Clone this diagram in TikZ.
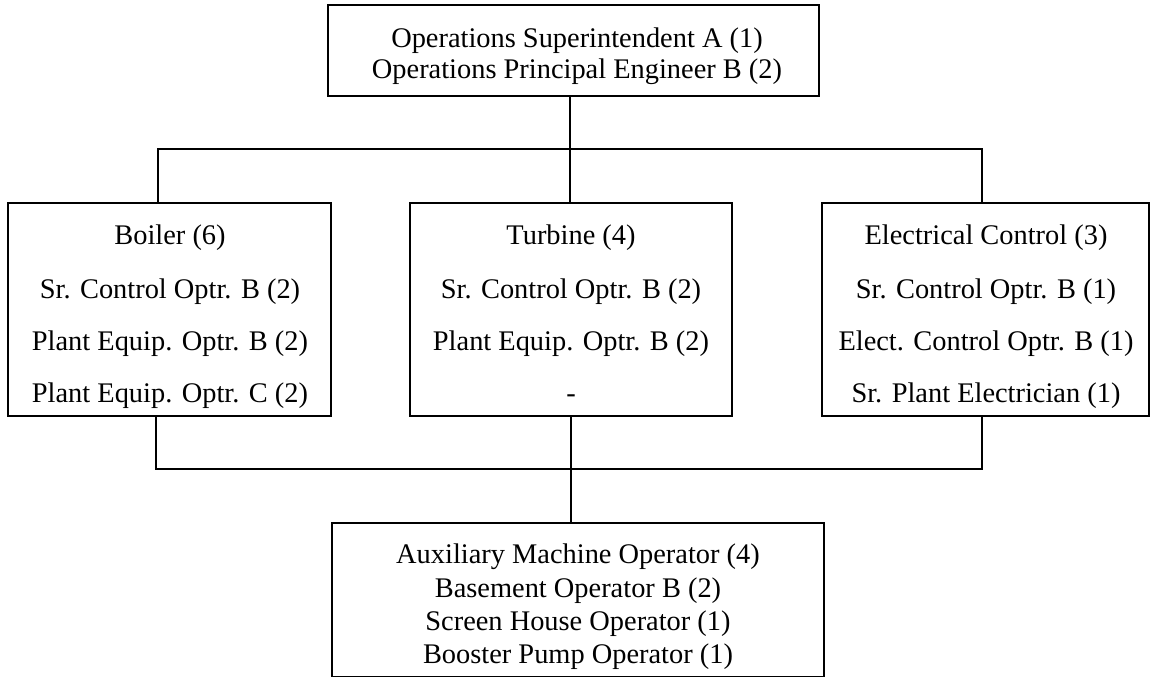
\documentclass[tikz,border=0pt]{standalone}
\usepackage{fontspec}
\setmainfont{Liberation Serif}
\usetikzlibrary{fit}

\tikzset{
  box/.style={draw=black, line width=1.25pt, inner sep=0pt, rectangle},
  link/.style={draw=black, line width=1.3pt},
  txt/.style={anchor=base, inner sep=0pt, font=\fontsize{14.2}{16}\selectfont},
}

\begin{document}
\begin{tikzpicture}[x=0.5pt, y=-0.5pt]
  % page frame (pixel grid, y pointing down)
  \fill[white] (0,0) rectangle (1151,676);
  \useasboundingbox (0,0) rectangle (1151,676);

  % boxes
  \node[box, fit={(328,5) (819,96)}] (top) {};
  \node[box, fit={(8,203) (331,416)}] (boiler) {};
  \node[box, fit={(410,203) (732,416)}] (turbine) {};
  \node[box, fit={(822,203) (1149,416)}] (elec) {};
  \node[box, fit={(332,523) (824,677)}] (aux) {};

  % top box text
  \node[txt] (t1) at (577,47) {Operations Superintendent A (1)};
  \node[txt] (t2) at (577,78) {Operations Principal Engineer B (2)};

  % boiler
  \node[txt] (b1) at (170,244) {Boiler (6)};
  \node[txt] (b2) at (170,298) {Sr. Control Optr. B (2)};
  \node[txt] (b3) at (170,350) {Plant Equip. Optr. B (2)};
  \node[txt] (b4) at (170,402) {Plant Equip. Optr. C (2)};

  % turbine
  \node[txt] (u1) at (571,244) {Turbine (4)};
  \node[txt] (u2) at (571,298) {Sr. Control Optr. B (2)};
  \node[txt] (u3) at (571,350) {Plant Equip. Optr. B (2)};
  \node[txt] (u4) at (571,402) {-};

  % electrical control
  \node[txt] (e1) at (986,244) {Electrical Control (3)};
  \node[txt] (e2) at (986,298) {Sr. Control Optr. B (1)};
  \node[txt] (e3) at (986,350) {Elect. Control Optr. B (1)};
  \node[txt] (e4) at (986,402) {Sr. Plant Electrician (1)};

  % auxiliary operators
  \node[txt] (a1) at (578,563) {Auxiliary Machine Operator (4)};
  \node[txt] (a2) at (578,597) {Basement Operator B (2)};
  \node[txt] (a3) at (578,630) {Screen House Operator (1)};
  \node[txt] (a4) at (578,663) {Booster Pump Operator (1)};

  % upper bus
  \coordinate (jl) at (158,149);
  \coordinate (jt) at (570,149);
  \coordinate (jr) at (982,149);
  \draw[link] (top.south -| jt) -- (jt);
  \draw[link] (jl |- boiler.north) -- (jl) -- (jr) -- (jr |- elec.north);
  \draw[link] (jt) -- (jt |- turbine.north);

  % lower bus
  \coordinate (kl) at (156,469);
  \coordinate (km) at (571,469);
  \coordinate (kr) at (982,469);
  \draw[link] (boiler.south -| kl) -- (kl) -- (kr) -- (elec.south -| kr);
  \draw[link] (turbine.south -| km) -- (aux.north -| km);
\end{tikzpicture}
\end{document}
